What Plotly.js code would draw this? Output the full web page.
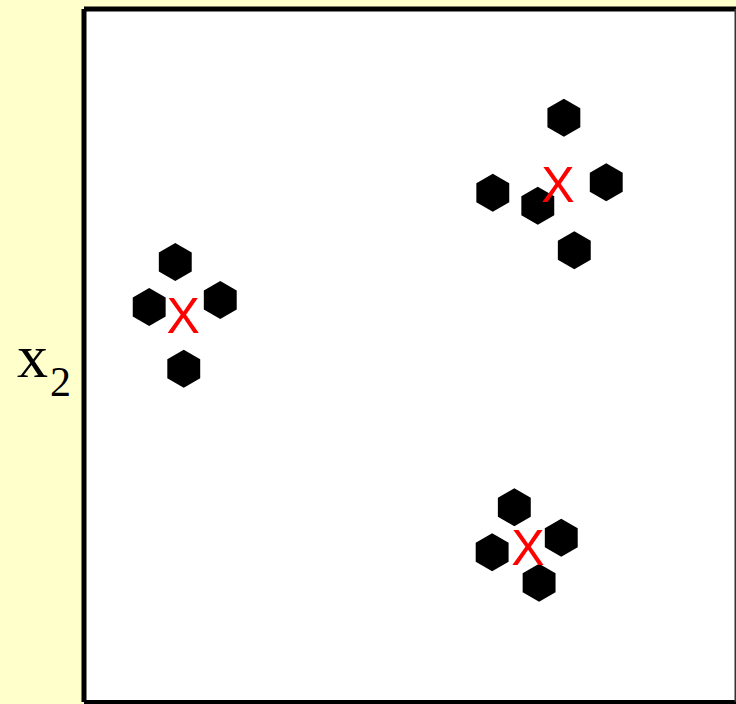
<!DOCTYPE html>
<html>
<head>
<meta charset="utf-8">
<script src="https://cdn.plot.ly/plotly-3.0.1.min.js"></script>
<style>html,body{margin:0;padding:0;background:#FFFFCC;}#chart{width:736px;height:704px;}</style>
</head>
<body>
<div id="chart"></div>
<script>
// Data points (x1, x2)
const pointsX = [1.40, 1.00, 2.09, 1.53,  7.36, 6.27, 6.96, 8.01, 7.52,  6.60, 6.26, 7.32, 6.98];
const pointsY = [6.35, 5.70, 5.80, 4.81,  8.43, 7.35, 7.16, 7.50, 6.52,  2.81, 2.16, 2.37, 1.72];
// Cluster centres (red X)
const centreX = [1.52, 7.27, 6.81];
const centreY = [5.50, 7.40, 2.16];
const centreLabel = ["X", "X", "X"];
const axisLabel = "x";
const axisSub = "2";

const traces = [
  {type:'scatter', mode:'markers', x:pointsX, y:pointsY,
   marker:{symbol:'hexagon', size:38, color:'#000000', line:{width:0}}, hoverinfo:'skip'},
  {type:'scatter', mode:'text', x:centreX, y:centreY, text:centreLabel,
   textposition:'middle center',
   textfont:{family:'Liberation Sans, Arial, sans-serif', size:50, color:'#FF0000'}, hoverinfo:'skip'}
];

const layout = {
  width:736, height:704,
  margin:{l:84, r:0, t:9, b:2, pad:0},
  paper_bgcolor:'#FFFFCC', plot_bgcolor:'#FFFFFF',
  showlegend:false,
  xaxis:{range:[0,10], visible:false, fixedrange:true},
  yaxis:{range:[0,10], visible:false, fixedrange:true},
  shapes:[
    {type:'line', xref:'paper', yref:'paper', x0:0, x1:0, y0:0, y1:1, line:{color:'#000', width:5}},
    {type:'line', xref:'paper', yref:'paper', x0:0, x1:1, y0:1, y1:1, line:{color:'#000', width:5}},
    {type:'line', xref:'paper', yref:'paper', x0:0, x1:1, y0:0, y1:0, line:{color:'#000', width:4}},
    {type:'line', xref:'paper', yref:'paper', x0:1, x1:1, y0:0, y1:1, line:{color:'#333', width:3}}
  ],
  annotations:[
    {xref:'paper', yref:'paper', x:-0.079, y:0.500, xanchor:'center', yanchor:'middle',
     text:axisLabel, showarrow:false, font:{family:'Liberation Serif, Times New Roman, serif', size:62, color:'#000'}},
    {xref:'paper', yref:'paper', x:-0.036, y:0.462, xanchor:'center', yanchor:'middle',
     text:axisSub, showarrow:false, font:{family:'Liberation Serif, Times New Roman, serif', size:42, color:'#000'}}
  ]
};
Plotly.newPlot('chart', traces, layout, {displayModeBar:false, staticPlot:true});
</script>
</body>
</html>
